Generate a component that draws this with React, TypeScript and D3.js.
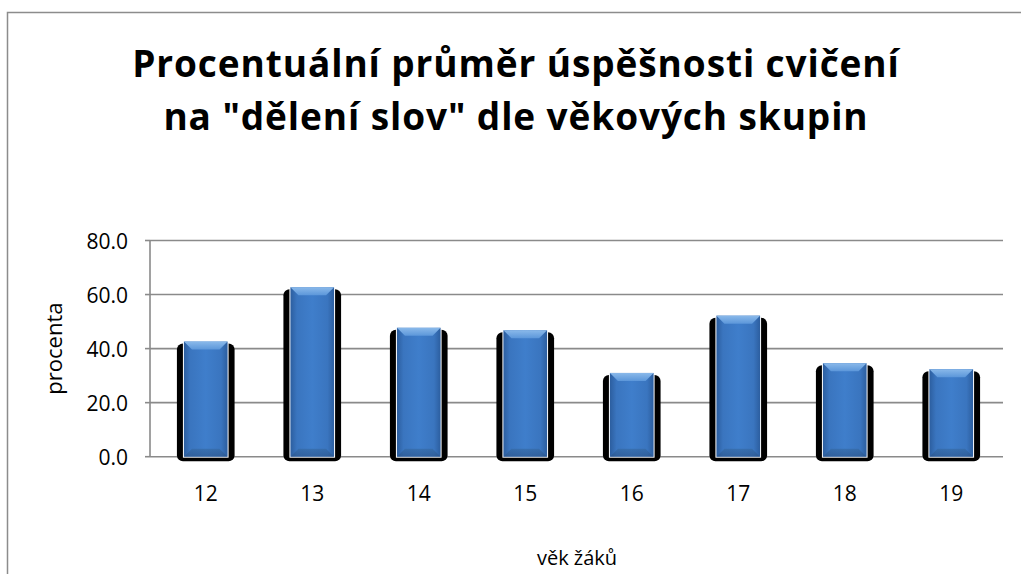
import React from "react";
import * as d3 from "d3";

const categories = ["12", "13", "14", "15", "16", "17", "18", "19"];
const values = [42.6, 62.7, 47.7, 46.8, 31.0, 52.2, 34.6, 32.4];
const yTicks = [0, 20, 40, 60, 80];
const titleLines = ["Procentuální průměr úspěšnosti cvičení", "na \"dělení slov\" dle věkových skupin"];
const xTitle = "věk žáků";
const yTitle = "procenta";

const W = 1021;
const H = 574;
const FONT = "'Open Sans', sans-serif";

export default function App() {
  const plotLeft = 150;
  const plotRight = 1003;
  const y = d3.scaleLinear().domain([0, 80]).range([456.7, 240.5]);
  const x = d3.scaleBand<string>().domain(categories).range([152.5, 1004.5]).paddingInner(0.59).paddingOuter(0.295);
  const bw = x.bandwidth();
  const bev = 8;

  return (
    <svg width={W} height={H} style={{ position: "absolute", left: 0, top: 0 }} fontFamily={FONT}>
      <defs>
        <linearGradient id="bodyGrad" x1="0" x2="1" y1="0" y2="0">
          <stop offset="0" stopColor="#2c5e9f" />
          <stop offset="0.15" stopColor="#3a75bf" />
          <stop offset="0.5" stopColor="#3f7ecb" />
          <stop offset="0.85" stopColor="#3a75bf" />
          <stop offset="1" stopColor="#2c5e9f" />
        </linearGradient>
        <linearGradient id="topGrad" x1="0" x2="0" y1="0" y2="1">
          <stop offset="0" stopColor="#8ab9ea" />
          <stop offset="1" stopColor="#5c97da" />
        </linearGradient>
        <linearGradient id="botGrad" x1="0" x2="0" y1="0" y2="1">
          <stop offset="0" stopColor="#34679f" />
          <stop offset="1" stopColor="#2a5185" />
        </linearGradient>
      </defs>
      <rect x={0} y={0} width={W} height={H} fill="#fff" />
      <rect x={7.5} y={12.5} width={1200} height={800} fill="none" stroke="#8c8c8c" strokeWidth={1.5} />

      {titleLines.map((t, i) => (
        <text key={i} x={516} y={77 + i * 53} textAnchor="middle" fontSize={37} fontWeight="bold" letterSpacing={0.9} fill="#000">
          {t}
        </text>
      ))}

      {yTicks.map((t) => (
        <g key={t}>
          <line x1={plotLeft} x2={plotRight} y1={y(t)} y2={y(t)} stroke="#8a8a8a" strokeWidth={1.6} />
          <line x1={145} x2={plotLeft} y1={y(t)} y2={y(t)} stroke="#8a8a8a" strokeWidth={1.6} />
          <text x={128} y={y(t) + 8} textAnchor="end" fontSize={21} fill="#000">
            {t.toFixed(1)}
          </text>
        </g>
      ))}
      <line x1={plotLeft} x2={plotLeft} y1={y(80)} y2={y(0)} stroke="#8a8a8a" strokeWidth={1.6} />

      {categories.map((c, i) => {
        const bx = x(c)!;
        const top = y(values[i]);
        const base = y(0);
        const h = base - top;
        return (
          <g key={c}>
            <rect x={bx - 7} y={top + 2} width={bw + 14} height={h + 2.5} rx={6} fill="#000" />
            <rect x={bx - 1} y={top - 1} width={bw + 2} height={h + 2} fill="#fff" />
            <rect x={bx} y={top} width={bw} height={h} fill="url(#bodyGrad)" />
            <path d={`M${bx},${top}L${bx + bw},${top}L${bx + bw - bev},${top + bev}L${bx + bev},${top + bev}Z`} fill="url(#topGrad)" />
            <path d={`M${bx},${base}L${bx + bw},${base}L${bx + bw - bev},${base - bev}L${bx + bev},${base - bev}Z`} fill="url(#botGrad)" opacity={0.6} />
            <text x={bx + bw / 2} y={501} textAnchor="middle" fontSize={21} fill="#000">
              {c}
            </text>
          </g>
        );
      })}

      <text x={577} y={565} textAnchor="middle" fontSize={20} fill="#000">
        {xTitle}
      </text>
      <text transform={`translate(62, ${y(40)}) rotate(-90)`} textAnchor="middle" fontSize={22} fill="#000">
        {yTitle}
      </text>
    </svg>
  );
}
